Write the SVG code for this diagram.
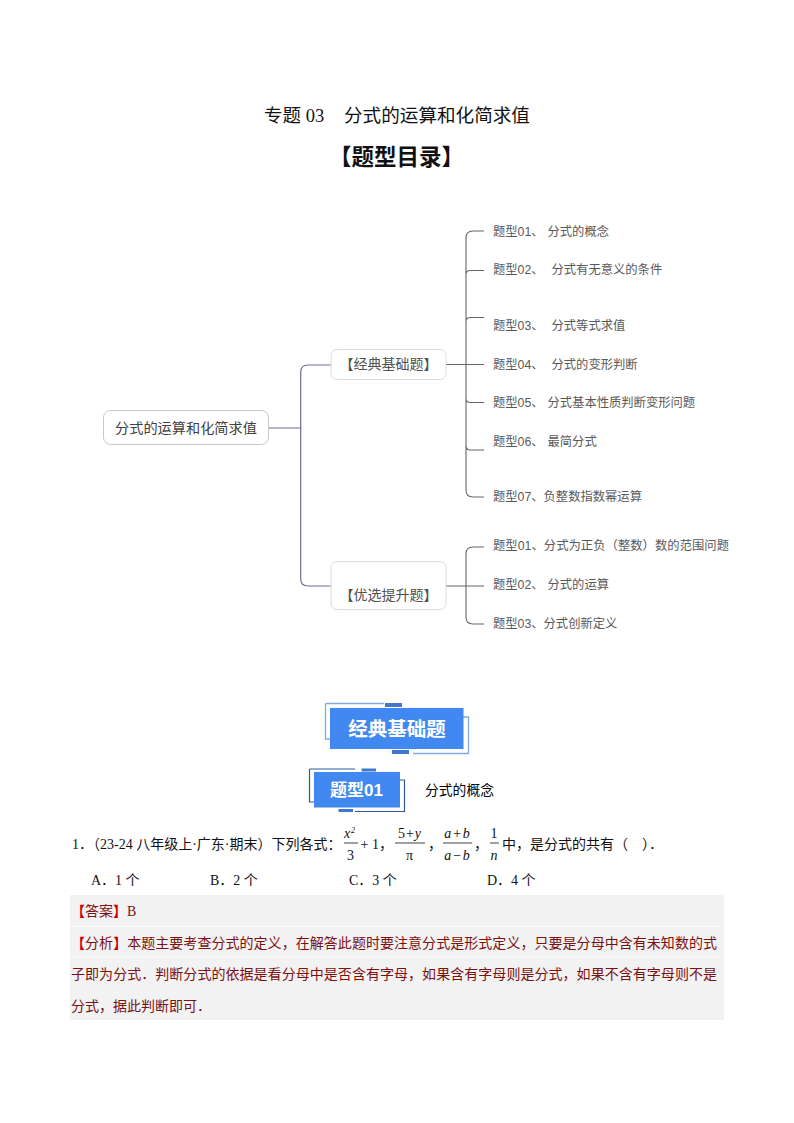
<svg xmlns="http://www.w3.org/2000/svg" width="794" height="1123" viewBox="0 0 794 1123">
<style>
text{font-family:"Liberation Serif","Noto Sans CJK SC",serif;fill:#111}
.m text,text.m{font-family:"Liberation Sans","Noto Sans CJK SC",sans-serif}
.leaf{font-family:"Liberation Sans","Noto Sans CJK SC",sans-serif;font-size:12.3px;fill:#595959}
.node{fill:#fff;stroke:#dcdcdc;stroke-width:1}
.lbl{font-family:"Liberation Sans","Noto Sans CJK SC",sans-serif;font-size:14px;fill:#505050;text-anchor:middle}
.c1{fill:none;stroke:#6f6c9a;stroke-width:1.2}
.c2{fill:none;stroke:#666;stroke-width:1.1}
.body{font-size:14px;fill:#111}
.ans{font-size:14px;fill:#7a1010}
.red{fill:#d00000;font-weight:bold}
.i{font-style:italic;font-size:14px;text-anchor:middle;letter-spacing:1px}
.n{font-size:14px;text-anchor:middle;letter-spacing:1px}
.bar{stroke:#111;stroke-width:.8}
.bt{font-family:"Liberation Sans","Noto Sans CJK SC",sans-serif;font-weight:bold;fill:#fff;text-anchor:middle}
</style>
<rect width="794" height="1123" fill="#fff"/>

<g id="title">
<text x="264" y="122" font-size="18.5">专题 03</text>
<text x="344" y="122" font-size="18.6">分式的运算和化简求值</text>
<text x="396.5" y="165" font-size="22.5" font-weight="bold" text-anchor="middle">【题型目录】</text>
</g>

<g id="connectors">
<path class="c1" d="M268 428H300.7M331 365H308Q300.7 365 300.7 372V579Q300.7 586 308 586H331"/>
<path class="c2" d="M446 364.500H484M484 231H473Q466 231 466 238V490Q466 497 473 497H484M484 270.500H470Q466 270.500 466 275M484 317.500H470Q466 317.500 466 322M466 398Q466 402.500 470 402.500H484M466 445Q466 450 470 450H484"/>
<path class="c2" d="M446 586H484M484 547H473Q466 547 466 554V617Q466 624 473 624H484"/>
</g>

<g id="root"><rect class="node" x="103.500" y="410.500" width="165" height="34" rx="7" style="stroke:#c8c8c8"/>
<text class="m" x="186" y="433" font-size="14.200" text-anchor="middle" style="fill:#404040">分式的运算和化简求值</text></g>
<g id="branch1"><rect class="node" x="331" y="349.500" width="115" height="30" rx="6"/><text class="lbl" x="388.500" y="369">【经典基础题】</text></g>
<g id="branch2"><rect class="node" x="331" y="561.500" width="115" height="48" rx="6"/><text class="lbl" x="388.500" y="600">【优选提升题】</text></g>

<g id="leaf1-1"><text class="leaf" x="493" y="235.500">题型01、<tspan x="547.500">分式的概念</tspan></text></g>
<g id="leaf1-2"><text class="leaf" x="493" y="274">题型02、<tspan x="551.500">分式有无意义的条件</tspan></text></g>
<g id="leaf1-3"><text class="leaf" x="493" y="330">题型03、<tspan x="551.500">分式等式求值</tspan></text></g>
<g id="leaf1-4"><text class="leaf" x="493" y="368.500">题型04、<tspan x="551.500">分式的变形判断</tspan></text></g>
<g id="leaf1-5"><text class="leaf" x="493" y="407">题型05、<tspan x="547.500">分式基本性质判断变形问题</tspan></text></g>
<g id="leaf1-6"><text class="leaf" x="493" y="446">题型06、<tspan x="547.500">最简分式</tspan></text></g>
<g id="leaf1-7"><text class="leaf" x="493" y="501">题型07、负整数指数幂运算</text></g>
<g id="leaf2-1"><text class="leaf" x="493" y="550" textLength="236">题型01、分式为正负（整数）数的范围问题</text></g>
<g id="leaf2-2"><text class="leaf" x="493" y="589">题型02、<tspan x="547.500">分式的运算</tspan></text></g>
<g id="leaf2-3"><text class="leaf" x="493" y="628">题型03、分式创新定义</text></g>

<g id="badge1">
<path d="M325.500 703.500V739H330M325.500 703.500H384M413 753.500H468.500V717H463" fill="none" stroke="#7ea8e6" stroke-width="1.300"/>
<rect x="385" y="703" width="17" height="4" fill="#3f78cc"/><rect x="392" y="750" width="17" height="4" fill="#3f78cc"/>
<rect x="330" y="708" width="133.500" height="41" fill="#4188f0"/>
<text class="bt" x="397" y="736" font-size="19.500">经典基础题</text>
</g>
<g id="badge2">
<path d="M309.500 769V802H314M309.500 769H355M400 780H404.500V811.500H355" fill="none" stroke="#2f5a9c" stroke-width="1.200"/>
<rect x="361.500" y="768.500" width="14.500" height="3" fill="#3f78cc"/><rect x="338.500" y="809" width="14.500" height="3" fill="#3f78cc"/>
<rect x="314" y="772" width="86" height="35.500" fill="#4188f0"/>
<text class="bt" x="356.500" y="796" font-size="17">题型01</text>
<text class="m" x="425" y="795" font-size="13.800" style="fill:#000">分式的概念</text>
</g>

<g id="question">
<text class="body" x="72" y="849">1．（23-24 八年级上·广东·期末）下列各式：</text>
<text class="i" x="350" y="838">x<tspan font-size="8" dy="-5">2</tspan></text><line class="bar" x1="344" x2="358" y1="843" y2="843"/><text class="n" x="351" y="860">3</text>
<text class="body" x="360.500" y="849">+<tspan x="372">1，</tspan></text>
<text class="n" x="410" y="838">5+<tspan font-style="italic">y</tspan></text><line class="bar" x1="395" x2="425" y1="843" y2="843"/><text class="n" x="410" y="860">π</text>
<text class="body" x="428" y="849">，</text>
<text class="i" x="457.500" y="838">a+b</text><line class="bar" x1="443" x2="472" y1="843" y2="843"/><text class="i" x="457.500" y="860">a−b</text>
<text class="body" x="474" y="849">，</text>
<text class="n" x="494.500" y="838">1</text><line class="bar" x1="490" x2="499" y1="843" y2="843"/><text class="i" x="494.500" y="860">n</text>
<text class="body" x="502" y="849">中，是分式的共有（<tspan x="642">）．</tspan></text>
<text class="body" x="91" y="885">A．1 个</text>
<text class="body" x="210" y="885">B．2 个</text>
<text class="body" x="349" y="885">C．3 个</text>
<text class="body" x="487" y="885">D．4 个</text>
</g>

<g id="answer">
<rect x="70" y="895" width="654" height="125" fill="#f2f2f2"/>
<path d="M70 926.500H724M70 957H724" stroke="#fafafa" stroke-width="1"/>
<text class="ans" x="71" y="916"><tspan class="red">【</tspan>答案<tspan class="red">】</tspan>B</text>
<text class="ans" x="71" y="948" textLength="646"><tspan class="red">【</tspan>分析<tspan class="red">】</tspan>本题主要考查分式的定义，在解答此题时要注意分式是形式定义，只要是分母中含有未知数的式</text>
<text class="ans" x="71" y="979" textLength="646">子即为分式．判断分式的依据是看分母中是否含有字母，如果含有字母则是分式，如果不含有字母则不是</text>
<text class="ans" x="71" y="1011">分式，据此判断即可．</text>
</g>
</svg>
